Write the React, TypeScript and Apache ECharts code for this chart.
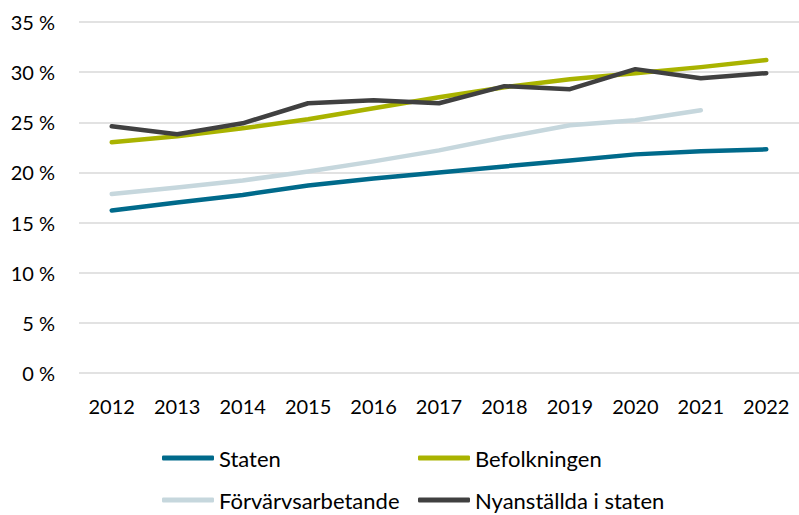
import React, { useEffect, useRef } from "react";
import * as echarts from "echarts";

const years = ["2012", "2013", "2014", "2015", "2016", "2017", "2018", "2019", "2020", "2021", "2022"];
const staten = [16.2, 17.0, 17.75, 18.7, 19.4, 20.0, 20.6, 21.2, 21.8, 22.1, 22.3];
const befolkningen = [23.0, 23.6, 24.4, 25.3, 26.4, 27.5, 28.5, 29.3, 29.9, 30.5, 31.2];
const forvarvs = [17.85, 18.5, 19.2, 20.1, 21.1, 22.2, 23.5, 24.7, 25.2, 26.2, null];
const nyanstallda = [24.6, 23.8, 24.9, 26.9, 27.2, 26.9, 28.6, 28.3, 30.3, 29.4, 29.9];

const FONT = "Lato";

export default function App() {
  const ref = useRef<HTMLDivElement>(null);
  useEffect(() => {
    if (!ref.current) return;
    const chart = echarts.init(ref.current, undefined, { renderer: "svg" });
    const mk = (name: string, data: (number | null)[], color: string) => ({
      name,
      type: "line",
      data,
      symbol: "none",
      lineStyle: { color, width: 4.5, cap: "round", join: "round" },
      itemStyle: { color },
      z: 2,
    });
    const legendText = { fontFamily: FONT, fontSize: 22, color: "#000", padding: [0, 0, 0, 0] };
    const lg = (name: string, left: number, top: number) => ({
      left,
      top,
      padding: 0,
      itemWidth: 52,
      itemHeight: 5,
      itemGap: 4,
      icon: "roundRect",
      textStyle: legendText,
      data: [name],
    });
    chart.setOption({
      animation: false,
      textStyle: { fontFamily: FONT },
      grid: { left: 79, right: 0, top: 22, bottom: 142, containLabel: false },
      xAxis: {
        type: "category",
        data: years,
        boundaryGap: true,
        axisLine: { show: false },
        axisTick: { show: false },
        axisLabel: { fontFamily: FONT, fontSize: 20, color: "#000", margin: 23 },
      },
      yAxis: {
        type: "value",
        min: 0,
        max: 35,
        interval: 5,
        axisLine: { show: false },
        axisTick: { show: false },
        splitLine: { lineStyle: { color: "#D9D9D9", width: 1.5 } },
        axisLabel: {
          fontFamily: FONT,
          fontSize: 20,
          color: "#000",
          margin: 24,
          formatter: (v: number) => v + " %",
        },
      },
      legend: [
        lg("Staten", 162, 447),
        lg("Förvärvsarbetande", 162, 489),
        lg("Befolkningen", 418, 447),
        lg("Nyanställda i staten", 418, 489),
      ],
      series: [
        mk("Staten", staten, "#006A8B"),
        mk("Befolkningen", befolkningen, "#A9B300"),
        mk("Förvärvsarbetande", forvarvs, "#C6D7DD"),
        mk("Nyanställda i staten", nyanstallda, "#404040"),
      ],
    });
    return () => chart.dispose();
  }, []);
  return <div ref={ref} style={{ width: 799, height: 515, position: "absolute", left: 0, top: 0 }} />;
}
